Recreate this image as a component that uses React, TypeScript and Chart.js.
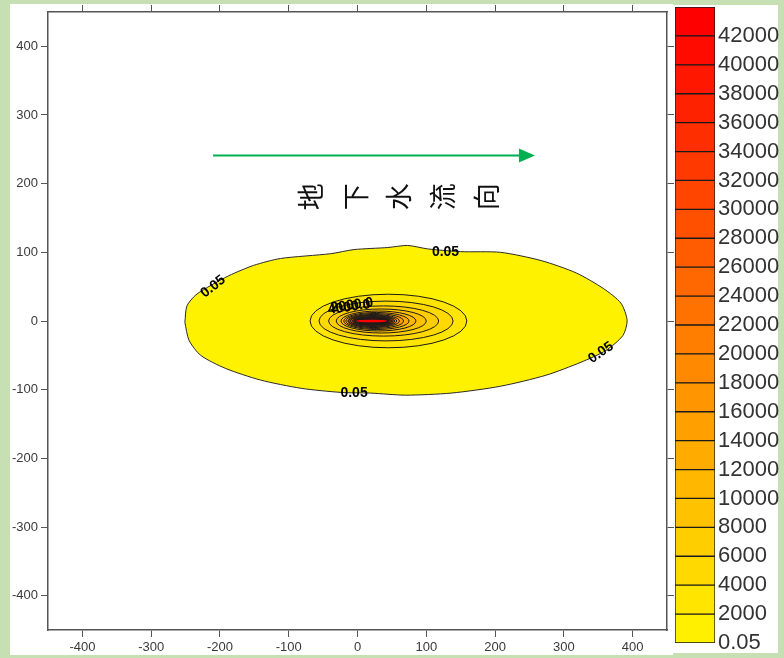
import { useEffect, useRef } from "react";
import { Chart, registerables } from "chart.js";
Chart.register(...registerables);

// ---------- data ----------
const axisMin = -450;
const axisMax = 450;
const xTickValues = [-400, -300, -200, -100, 0, 100, 200, 300, 400];
const yTickValues = [-400, -300, -200, -100, 0, 100, 200, 300, 400];

// outer 0.05 contour
const outerContourX = [-251, -248, -235, -213, -187, -151, -112, -39, -5, 44, 73, 102, 150, 208, 267, 318, 358, 383, 392, 386, 361, 325, 274, 208, 136, 70, 19, -24, -82, -141, -192, -228, -245];
const outerContourY = [-2, 22, 38, 52, 66, 81, 91, 98, 104, 107, 110, 105, 101, 100, 88, 70, 47, 26, 1, -21, -43, -60, -79, -95, -105, -108, -105, -104, -98, -86, -69, -50, -28];
const outerLevelLabel = "0.05";
const outerLabelX = [128, -210, -5, 354];
const outerLabelY = [101, 50, -105, -46];
const outerLabelAngle = [0, -38, 0, -35];

// inner contours (extent of each closed contour)
const innerLevels = [2000, 4000, 6000, 8000, 10000, 12000, 14000, 16000, 18000, 20000, 22000, 24000, 26000, 28000, 30000, 32000, 34000, 36000, 38000, 40000, 42000];
const innerLeft = [-69, -56, -42, -31, -24, -20, -17, -14, -13, -11, -10, -8, -7, -7, -6, -5, -5, -4, -3, -2, -2];
const innerRight = [159, 139, 118, 100, 85, 75, 67, 61, 57, 54, 52, 51, 50, 48, 48, 47, 46, 45, 45, 44, 43];
const innerHalfHeight = [39, 29, 22, 17.5, 14.5, 12.4, 10.9, 9.5, 8.7, 8, 7.3, 6.5, 5.8, 5.2, 4.7, 4.1, 3.6, 3.2, 2.8, 2.3, 1.9];
const innerCenterY = 0;
const innerLabelText = ["4000.0", "2000.0"];
const innerLabelX = [-12, -8];
const innerLabelY = [20, 23];

// colour scale
const colorLevels = [0.05, 2000, 4000, 6000, 8000, 10000, 12000, 14000, 16000, 18000, 20000, 22000, 24000, 26000, 28000, 30000, 32000, 34000, 36000, 38000, 40000, 42000];
const colorLevelLabels = ["0.05", "2000", "4000", "6000", "8000", "10000", "12000", "14000", "16000", "18000", "20000", "22000", "24000", "26000", "28000", "30000", "32000", "34000", "36000", "38000", "40000", "42000"];
const colorbarTop = 44000;
const bandColors = ["#FFF000", "#FFE500", "#FFD900", "#FFCE00", "#FFC200", "#FFB700", "#FFAB00", "#FFA000", "#FF9500", "#FF8900", "#FF7E00", "#FF7200", "#FF6700", "#FF5B00", "#FF5000", "#FF4500", "#FF3900", "#FF2E00", "#FF2200", "#FF1700", "#FF0B00", "#FF0000"];

// flow direction annotation
const arrowX = [-210, 258];
const arrowY = 241;
const flowChars = ["地", "下", "水", "流", "向"];
const flowCharX = [-68, -3, 60, 124, 188];
const flowCharY = 181;

// ---------- styles ----------
const FONT = "'Liberation Sans', Arial, sans-serif";
const tickColor = "#3a3a3a";
const axisColor = "#555555";
const pageGreen = "#C6E0B4";

function axis(position: string, axisId: string, values: number[], size: number, labels: boolean) {
  return {
    type: "linear",
    axis: axisId,
    position,
    min: axisMin,
    max: axisMax,
    afterBuildTicks: (s: any) => {
      s.ticks = values.map((v) => ({ value: v }));
    },
    afterFit: (s: any) => {
      if (s.isHorizontal()) s.height = size;
      else s.width = size;
    },
    grid: { display: true, drawOnChartArea: false, drawTicks: true, tickLength: 7, color: axisColor, lineWidth: 1 },
    border: { display: true, color: axisColor, width: 1.5 },
    ticks: {
      display: labels,
      padding: 3,
      color: tickColor,
      font: { family: FONT, size: 13 },
      maxRotation: 0,
      autoSkip: false,
    },
  };
}

const backgroundPlugin = {
  id: "pageBg",
  beforeDraw(chart: any) {
    const { ctx } = chart;
    ctx.save();
    ctx.fillStyle = pageGreen;
    ctx.fillRect(0, 0, chart.width, chart.height);
    ctx.fillStyle = "#FFFFFF";
    ctx.fillRect(10, 4, 663, 651);
    ctx.fillRect(673, 5, 105, 648);
    ctx.restore();
  },
};

const overlayPlugin = {
  id: "contourOverlay",
  afterDatasetsDraw(chart: any) {
    const { ctx, chartArea } = chart;
    const xs = chart.scales.x;
    const ys = chart.scales.y;
    ctx.save();
    ctx.beginPath();
    ctx.rect(chartArea.left, chartArea.top, chartArea.right - chartArea.left, chartArea.bottom - chartArea.top);
    ctx.clip();

    const cy = ys.getPixelForValue(innerCenterY);
    const ellipse = (k: number) => {
      const l = xs.getPixelForValue(innerLeft[k]);
      const r = xs.getPixelForValue(innerRight[k]);
      const ry = Math.abs(ys.getPixelForValue(innerCenterY + innerHalfHeight[k]) - cy);
      ctx.beginPath();
      ctx.ellipse((l + r) / 2, cy, (r - l) / 2, ry, 0, 0, Math.PI * 2);
    };
    innerLevels.forEach((lvl, k) => {
      ellipse(k);
      ctx.fillStyle = bandColors[colorLevels.indexOf(lvl)];
      ctx.fill();
      ctx.lineWidth = 1;
      ctx.strokeStyle = "#1a1a1a";
      ctx.stroke();
    });
    const last = innerLevels.length - 1;
    ellipse(last);
    ctx.fillStyle = bandColors[colorLevels.indexOf(innerLevels[last])];
    ctx.fill();

    // contour labels
    ctx.fillStyle = "#000";
    ctx.textAlign = "center";
    ctx.textBaseline = "middle";
    ctx.font = `bold 14px ${FONT}`;
    outerLabelX.forEach((vx, i) => {
      ctx.save();
      ctx.translate(xs.getPixelForValue(vx), ys.getPixelForValue(outerLabelY[i]));
      ctx.rotate((outerLabelAngle[i] * Math.PI) / 180);
      ctx.fillText(outerLevelLabel, 0, 0);
      ctx.restore();
    });
    innerLabelText.forEach((t, i) => {
      ctx.save();
      ctx.translate(xs.getPixelForValue(innerLabelX[i]), ys.getPixelForValue(innerLabelY[i]));
      ctx.rotate((-8 * Math.PI) / 180);
      ctx.fillText(t, 0, 0);
      ctx.restore();
    });

    // arrow
    const ax0 = xs.getPixelForValue(arrowX[0]);
    const ax1 = xs.getPixelForValue(arrowX[1]);
    const ay = ys.getPixelForValue(arrowY);
    ctx.strokeStyle = "#00B050";
    ctx.fillStyle = "#00B050";
    ctx.lineWidth = 2;
    ctx.beginPath();
    ctx.moveTo(ax0, ay);
    ctx.lineTo(ax1 - 14, ay);
    ctx.stroke();
    ctx.beginPath();
    ctx.moveTo(ax1, ay);
    ctx.lineTo(ax1 - 16, ay - 7);
    ctx.lineTo(ax1 - 16, ay + 7);
    ctx.closePath();
    ctx.fill();

    // rotated Chinese text
    ctx.fillStyle = "#111";
    ctx.font = `27px 'Noto Sans CJK SC', sans-serif`;
    flowChars.forEach((c, i) => {
      ctx.save();
      ctx.translate(xs.getPixelForValue(flowCharX[i]), ys.getPixelForValue(flowCharY));
      ctx.rotate(-Math.PI / 2);
      ctx.fillText(c, 0, 0);
      ctx.restore();
    });
    ctx.restore();
  },
};

export default function App() {
  const mainRef = useRef<HTMLCanvasElement>(null);
  const barRef = useRef<HTMLCanvasElement>(null);

  useEffect(() => {
    const outerPoints = outerContourX.map((vx, i) => ({ x: vx, y: outerContourY[i] }));
    outerPoints.push({ x: outerContourX[0], y: outerContourY[0] });

    const main = new Chart(mainRef.current as HTMLCanvasElement, {
      type: "line",
      data: {
        datasets: [
          {
            label: "0.05",
            data: outerPoints,
            fill: "shape",
            backgroundColor: "#FFF200",
            borderColor: "#2a2a2a",
            borderWidth: 1,
            pointRadius: 0,
            tension: 0.25,
          } as any,
        ],
      },
      options: {
        responsive: false,
        animation: false,
        devicePixelRatio: 1,
        events: [],
        layout: { padding: { left: 10, top: 5, right: 110, bottom: 0 } },
        plugins: { legend: { display: false }, tooltip: { enabled: false } },
        scales: {
          x: axis("bottom", "x", xTickValues, 28, true),
          y: axis("left", "y", yTickValues, 38, true),
          x2: axis("top", "x", xTickValues, 7, false),
          y2: axis("right", "y", yTickValues, 7, false),
        } as any,
      },
      plugins: [backgroundPlugin, overlayPlugin],
    });

    const bandUpper = [...colorLevels.slice(1), colorbarTop];
    const bar = new Chart(barRef.current as HTMLCanvasElement, {
      type: "bar",
      data: {
        labels: [""],
        datasets: bandColors.map((c, i) => ({
          data: [[colorLevels[i], bandUpper[i]]],
          backgroundColor: c,
          borderColor: "#1a1a1a",
          borderWidth: 1,
          borderSkipped: false,
          barPercentage: 1,
          categoryPercentage: 1,
        })) as any,
      },
      options: {
        responsive: false,
        animation: false,
        devicePixelRatio: 1,
        events: [],
        layout: { padding: { left: 3, top: 7, right: 0, bottom: 15 } },
        plugins: { legend: { display: false }, tooltip: { enabled: false } },
        scales: {
          x: { display: false, stacked: true },
          y: {
            position: "right",
            min: 0,
            max: colorbarTop,
            afterBuildTicks: (s: any) => {
              s.ticks = colorLevels.map((v) => ({ value: v }));
            },
            afterFit: (s: any) => {
              s.width = 69;
              s.paddingTop = 0;
              s.paddingBottom = 0;
            },
            grid: { display: false, drawTicks: false },
            border: { display: false },
            ticks: {
              padding: 3,
              color: "#333",
              font: { family: FONT, size: 22 },
              autoSkip: false,
              callback: (v: any) => colorLevelLabels[colorLevels.indexOf(Number(v))],
            },
          },
        } as any,
      },
    });

    return () => {
      main.destroy();
      bar.destroy();
    };
  }, []);

  return (
    <div style={{ position: "absolute", left: 0, top: 0, width: 784, height: 658, overflow: "hidden" }}>
      <canvas ref={mainRef} width={784} height={658} style={{ position: "absolute", left: 0, top: 0, width: 784, height: 658 }} />
      <canvas ref={barRef} width={112} height={658} style={{ position: "absolute", left: 672, top: 0, width: 112, height: 658 }} />
    </div>
  );
}
